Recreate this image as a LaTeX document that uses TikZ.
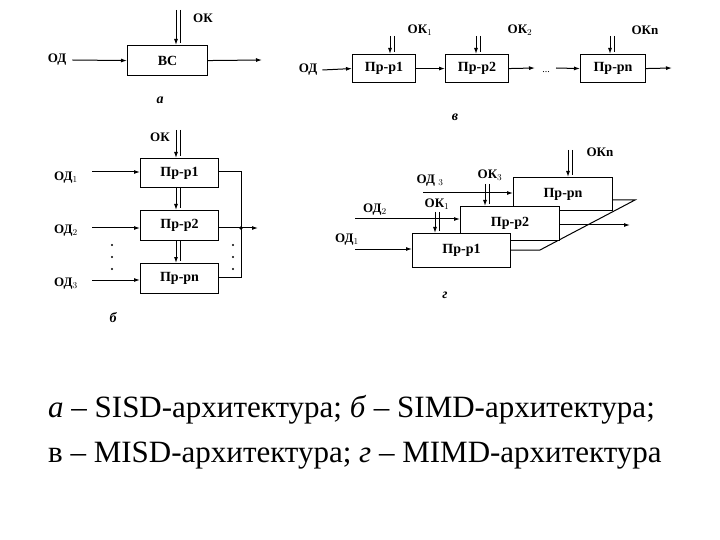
\documentclass[tikz,border=0pt]{standalone}
\usepackage{fontspec}
\setmainfont{Liberation Serif}
\newfontfamily\tnr{Liberation Serif}
\usetikzlibrary{arrows.meta}
\begin{document}
\begin{tikzpicture}[x=1pt,y=-1pt,
  bx/.style={draw,line width=1.1pt,inner sep=0pt,anchor=north west,font=\tnr\bfseries\fontsize{14}{14}\selectfont},
  lb/.style={font=\tnr\bfseries\fontsize{13}{13}\selectfont,inner sep=0pt},
  ar/.style={line width=1pt,-{Latex[length=6pt,width=4pt]}},
  ln/.style={line width=1pt},
  tag/.style={font=\tnr\bfseries\itshape\fontsize{14}{14}\selectfont},
  captext/.style={anchor=west,font=\tnr\fontsize{31}{31}\selectfont,inner sep=0pt}]
\useasboundingbox (0,0) rectangle (720,540);
% a
\node[bx,minimum width=80pt,minimum height=30pt] (vs) at (127,45) {ВС};
\node[lb] (od) at (57,60) {ОД};
\draw[ar] (od.east)+(6,0) -- (vs.west);
\coordinate (vso) at (262,60);
\draw[ar] (vs.east) -- (vso);
\node[lb] (ok) at (203,18) {ОК};
\draw[ar] (176,10) -- (176,45); \draw[ln] (180,10) -- (180,43);
\node[tag] (ta) at (160,100) {а};
% v
\node[lb] (vod) at (308,70) {ОД};
\node[bx,minimum width=63pt,minimum height=28pt] (v1) at (352,54) {Пр-р1};
\node[bx,minimum width=63pt,minimum height=28pt] (v2) at (445,54) {Пр-р2};
\node[bx,minimum width=65pt,minimum height=28pt] (v3) at (580,54) {Пр-рn};
\node[font=\fontsize{10}{10}\selectfont] (vdots) at (546,72) {...};
\draw[ar] (vod.east)+(5,0) -- (v1.west);
\draw[ar] (v1.east) -- (v2.west);
\draw[ar] (v2.east) -- (535,68);
\draw[ar] (556,68) -- (v3.west);
\draw[ar] (v3.east) -- (672,68);
\node[lb] at (420,30) {ОК$_1$};
\node[lb] at (520,30) {ОК$_2$};
\node[lb] at (645,30) {ОКn};
\draw[ar] (390,36) -- (390,54); \draw[ln] (394,36) -- (394,52);
\draw[ar] (476,36) -- (476,54); \draw[ln] (480,36) -- (480,52);
\draw[ar] (610,36) -- (610,54); \draw[ln] (614,36) -- (614,52);
\node[tag] at (455,117) {в};
% b
\node[bx,minimum width=78pt,minimum height=29pt] (b1) at (140,158) {Пр-р1};
\node[bx,minimum width=78pt,minimum height=30pt] (b2) at (140,210) {Пр-р2};
\node[bx,minimum width=78pt,minimum height=30pt] (b3) at (140,263) {Пр-рn};
\node[lb] at (160,137) {ОК};
\draw[ar] (176,130) -- (176,158); \draw[ln] (180,130) -- (180,156);
\draw[ar] (176,187) -- (176,210); \draw[ln] (180,187) -- (180,208);
\draw[ar] (176,240) -- (176,263); \draw[ln] (180,240) -- (180,261);
\node[lb] at (66,178) {ОД$_1$};
\node[lb] at (66,231) {ОД$_2$};
\node[lb] at (66,284) {ОД$_3$};
\draw[ar] (92,172) -- (b1.west|-0,172);
\draw[ar] (92,228) -- (b2.west|-0,228);
\draw[ar] (92,280) -- (b3.west|-0,280);
\draw[ln] (b1.east|-0,172) -- (241,172) -- (241,277) -- (b3.east|-0,277);
\draw[ar] (b2.east|-0,228) -- (258,228);
\fill (241,228) circle (1.8);
\foreach \y in {245,257,269} {\fill (112,\y) circle (1.2); \fill (233,\y) circle (1.2);}
\node[tag] at (113,318) {б};
% g
\draw[ln] (510,250) -- (540,250) -- (635,200) -- (612,200);
\node[bx,fill=white,minimum width=99pt,minimum height=33pt] (gn) at (513,177) {Пр-рn};
\node[bx,fill=white,minimum width=99pt,minimum height=34pt] (g2) at (460,206) {Пр-р2};
\node[bx,fill=white,minimum width=98pt,minimum height=34pt] (g1) at (412,233) {Пр-р1};
\draw[ar] (559,225) -- (630,225);
\node[lb] at (430,181) {ОД $_3$};
\node[lb] at (375,210) {ОД$_2$};
\node[lb] at (347,240) {ОД$_1$};
\draw[ar] (423,193) -- (gn.west|-0,193);
\draw[ar] (355,219) -- (g2.west|-0,219);
\draw[ar] (355,249) -- (g1.west|-0,249);
\node[lb] at (490,175) {ОК$_3$};
\node[lb] at (437,204) {ОК$_1$};
\node[lb] at (600,152) {ОКn};
\draw[ar] (485,184) -- (485,206); \draw[ln] (489,184) -- (489,204);
\draw[ar] (435,212) -- (435,233); \draw[ln] (439,212) -- (439,231);
\draw[ar] (568,150) -- (568,177); \draw[ln] (572,150) -- (572,175);
\node[tag] at (445,295) {г};
% captions
\node[captext] (c1) at (48,410) {\textit{а} – SISD-архитектура; \textit{б} – SIMD-архитектура;};
\node[captext] (c2) at (48,456) {в – MISD-архитектура; \textit{г} – MIMD-архитектура};
\end{tikzpicture}
\end{document}
